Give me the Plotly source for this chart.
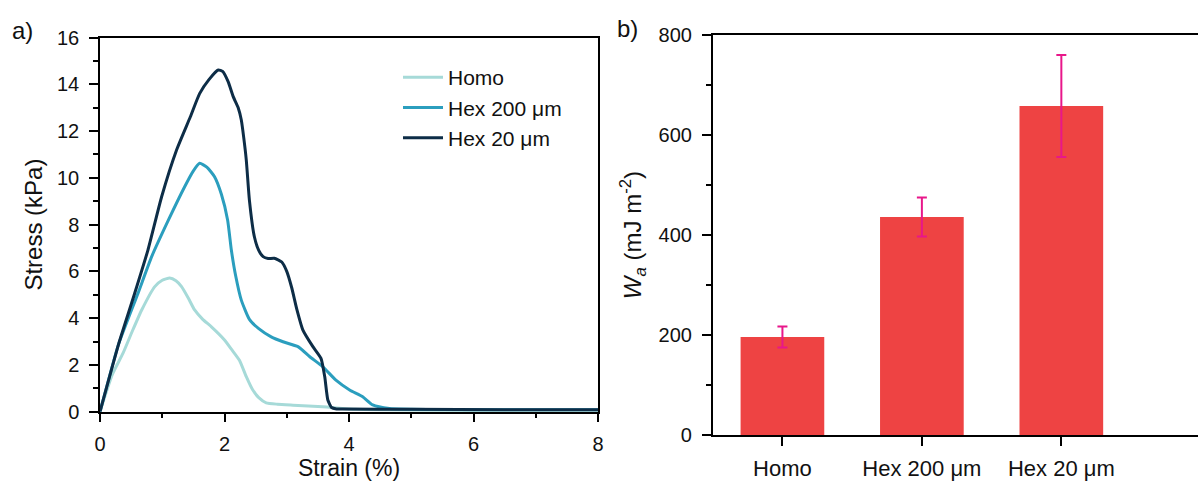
import plotly.graph_objects as go

# ---- data: stress-strain curves ----
homo_x = [0, 0.20, 0.37, 0.52, 0.67, 0.88, 1.00, 1.12, 1.22, 1.31, 1.42, 1.52, 1.65, 1.79, 2.0, 2.12, 2.24, 2.35, 2.45, 2.55, 2.67, 2.85, 3.1, 3.58, 4.11, 5.0, 6.0, 7.0, 8.0]
homo_y = [0, 1.6, 2.5, 3.45, 4.35, 5.35, 5.62, 5.72, 5.6, 5.35, 4.85, 4.35, 3.95, 3.63, 3.07, 2.64, 2.2, 1.5, 0.95, 0.6, 0.38, 0.32, 0.28, 0.21, 0.10, 0.06, 0.05, 0.05, 0.05]

hex200_x = [0, 0.30, 0.61, 0.83, 1.10, 1.36, 1.50, 1.60, 1.72, 1.84, 1.95, 2.05, 2.11, 2.18, 2.27, 2.40, 2.55, 2.75, 2.94, 3.18, 3.37, 3.58, 3.79, 4.01, 4.22, 4.38, 4.65, 5.5, 6.5, 8.0]
hex200_y = [0, 2.9, 5.06, 6.63, 8.2, 9.62, 10.3, 10.62, 10.45, 10.05, 9.3, 8.2, 6.91, 5.8, 4.77, 3.95, 3.55, 3.2, 2.99, 2.78, 2.35, 1.92, 1.35, 0.93, 0.64, 0.29, 0.14, 0.09, 0.08, 0.08]

hex20_x = [0, 0.30, 0.55, 0.77, 0.99, 1.23, 1.45, 1.60, 1.75, 1.90, 1.97, 2.06, 2.14, 2.22, 2.27, 2.31, 2.35, 2.40, 2.48, 2.55, 2.62, 2.70, 2.80, 2.92, 3.00, 3.08, 3.16, 3.26, 3.42, 3.55, 3.61, 3.66, 3.72, 3.80, 3.90, 5.0, 6.5, 8.0]
hex20_y = [0, 2.9, 5.0, 6.91, 9.19, 11.19, 12.6, 13.6, 14.2, 14.61, 14.55, 14.1, 13.47, 13.0, 12.47, 11.7, 10.76, 9.05, 7.48, 6.9, 6.63, 6.55, 6.56, 6.4, 6.0, 5.3, 4.4, 3.49, 2.78, 2.28, 1.50, 0.50, 0.18, 0.12, 0.12, 0.10, 0.08, 0.08]

# ---- data: adhesion work ----
categories = ["Homo", "Hex 200 μm", "Hex 20 μm"]
wa_values = [196, 436, 658]
wa_errors = [21, 39, 102]

series_names = ["Homo", "Hex 200 μm", "Hex 20 μm"]
colors = ["#A6DAD8", "#2B9EBE", "#0D2D47"]

FONT = "Liberation Sans, Arial, sans-serif"

fig = go.Figure()
for name, xs, ys, c in zip(series_names, [homo_x, hex200_x, hex20_x], [homo_y, hex200_y, hex20_y], colors):
    fig.add_trace(go.Scatter(x=xs, y=ys, mode="lines", name=name,
                             line=dict(color=c, width=3, shape="spline", smoothing=0.5),
                             xaxis="x", yaxis="y"))

fig.add_trace(go.Bar(x=categories, y=wa_values, width=0.6,
                     marker=dict(color="#EE4343", line=dict(width=0)),
                     error_y=dict(type="data", array=wa_errors, color="#E8178A", thickness=2, width=5),
                     showlegend=False, xaxis="x2", yaxis="y2"))

W, H = 1198, 481
def px(v):
    return v / W
def py(v):
    return 1 - v / H

tickfont = dict(family=FONT, size=20, color="#111")
titlefont = dict(family=FONT, size=24, color="#111")

common = dict(showline=True, linecolor="black", linewidth=1.5, ticks="outside",
              tickcolor="black", tickwidth=1.5, ticklen=9, showgrid=False,
              zeroline=False, tickfont=tickfont, automargin=False)
minor_style = dict(ticks="outside", ticklen=5, tickwidth=1.5, tickcolor="black")

fig.update_layout(
    width=W, height=H,
    margin=dict(l=0, r=0, t=0, b=0),
    paper_bgcolor="white", plot_bgcolor="white",
    font=dict(family=FONT),
    xaxis=dict(domain=[px(100), px(598)], range=[0, 8], dtick=2, mirror=True,
               minor=dict(dtick=1, **minor_style), ticklabelstandoff=5,
               title=dict(text="Strain (%)", font=dict(family=FONT, size=23, color="#111"), standoff=12),
               anchor="y", **common),
    yaxis=dict(domain=[py(411.7), py(37.5)], range=[0, 16], dtick=2, mirror=True,
               minor=dict(dtick=1, **minor_style), ticklabelstandoff=6,
               title=dict(text="Stress (kPa)", font=titlefont, standoff=8),
               anchor="x", **common),
    xaxis2=dict(domain=[px(712.7), 1.0], range=[-0.5, 2.98], mirror=True,
                ticklabelstandoff=4,
                anchor="y2", **{**common, "tickfont": dict(family=FONT, size=22, color="#111")}),
    yaxis2=dict(domain=[py(435), py(35)], range=[0, 800], dtick=200,
                minor=dict(dtick=100, **minor_style), ticklabelstandoff=6,
                title=dict(text="<i>W</i><sub><i>a</i></sub> (mJ m<sup>-2</sup>)", font=titlefont, standoff=10),
                anchor="x2", **common),
    legend=dict(x=px(398), y=py(57), xanchor="left", yanchor="top",
                bgcolor="rgba(0,0,0,0)", font=dict(family=FONT, size=21, color="#111"),
                itemwidth=40, tracegroupgap=0),
    annotations=[
        dict(text="a)", x=px(10), y=py(30), xref="paper", yref="paper", showarrow=False,
             xanchor="left", yanchor="middle", font=dict(family=FONT, size=24, color="#111")),
        dict(text="b)", x=px(615), y=py(29), xref="paper", yref="paper", showarrow=False,
             xanchor="left", yanchor="middle", font=dict(family=FONT, size=24, color="#111")),
    ],
)

fig.write_html("out.html", config={"displayModeBar": False},
               post_script="document.body.style.margin='0px';document.body.style.overflow='hidden';")
